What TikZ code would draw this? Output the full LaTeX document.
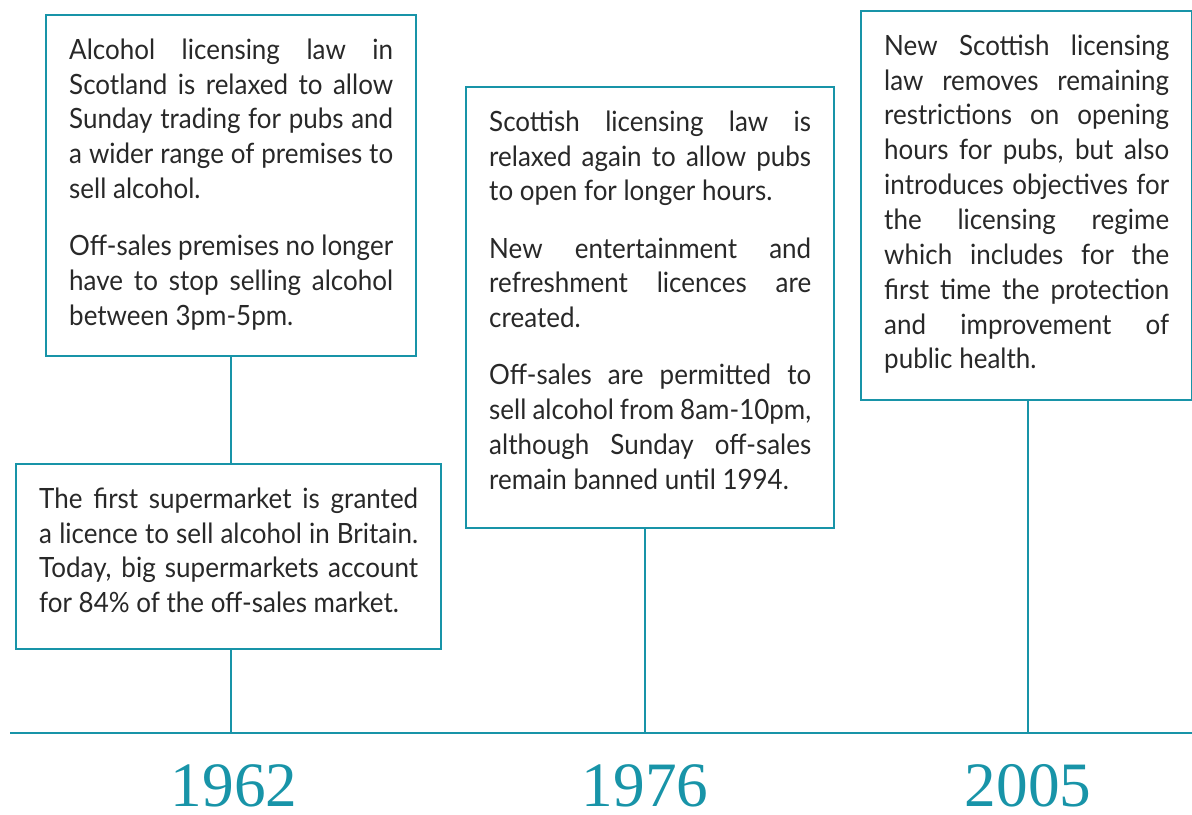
\documentclass[tikz,border=0pt]{standalone}
\usepackage{fontspec}
\setmainfont{Lato}[FakeStretch=0.93]
\newfontfamily\yearfont{Liberation Serif}
\usetikzlibrary{calc}
\definecolor{teal}{RGB}{24,148,168}
\definecolor{ink}{RGB}{40,40,40}
\newcommand{\blockgap}{\par\vspace{12.7pt}}
\newcommand{\nohyph}{\hyphenpenalty=10000 \exhyphenpenalty=10000\relax}

\begin{document}
\begin{tikzpicture}[x=0.02cm,y=-0.02cm,
		event/.style={draw=teal, line width=1.4pt, anchor=north west, inner xsep=0.46cm, inner ysep=0pt,
			align=justify, text=ink, text height=0.88cm,
			font=\fontsize{15.9}{19.84}\selectfont\nohyph},
		year/.style={anchor=base, text=teal, font=\yearfont\fontsize{36}{40}\selectfont, inner sep=0pt}]
				\useasboundingbox (0,0) rectangle (1192,814);
				
				\node[event, text width=6.48cm, text depth=5.94cm] (sunday) at (45,14)
					{Alcohol licensing law in\linebreak Scotland is relaxed to allow\linebreak Sunday trading for pubs and\linebreak a wider range of premises to\linebreak sell alcohol.\blockgap
					Off-sales premises no longer\linebreak have to stop selling alcohol\linebreak between 3pm-5pm.};
				
				\node[event, text width=7.58cm, text depth=2.82cm] (market) at (15,463)
					{The first supermarket is granted\linebreak a licence to sell alcohol in Britain.\linebreak Today, big supermarkets account\linebreak for 84\% of the off-sales market.};
				
				\node[event, text width=6.44cm, text depth=7.94cm] (hours) at (465,86)
					{Scottish licensing law is\linebreak relaxed again to allow pubs\linebreak to open for longer hours.\blockgap
					New entertainment and\linebreak refreshment licences are\linebreak created.\blockgap
					Off-sales are permitted to\linebreak sell alcohol from 8am-10pm,\linebreak although Sunday off-sales\linebreak remain banned until 1994.};
				
				\node[event, text width=5.7cm, text depth=6.9cm] (health) at (860,10)
					{New Scottish licensing\linebreak law removes remaining\linebreak restrictions on opening\linebreak hours for pubs, but also\linebreak introduces objectives for\linebreak the licensing regime\linebreak which includes for the\linebreak first time the protection\linebreak and improvement of\linebreak public health.};
				
				\coordinate (start) at (10,733);
				\coordinate (end) at (1192,733);
				\coordinate (t62) at (231,733);
				\coordinate (t76) at (645,733);
				\coordinate (t05) at (1028,733);
				\draw[teal, line width=1.4pt] (start) -- (end);
				
				\draw[teal, line width=1.4pt] (t62 |- sunday.south) -- (t62 |- market.north);
				\draw[teal, line width=1.4pt] (t62 |- market.south) -- (t62);
				\draw[teal, line width=1.4pt] (t76 |- hours.south) -- (t76);
				\draw[teal, line width=1.4pt] (t05 |- health.south) -- (t05);
				
				\node[year] (y62) at (234,806) {1962};
				\node[year] (y76) at (645,806) {1976};
				\node[year] (y05) at (1028,806) {2005};
			\end{tikzpicture}
\end{document}
